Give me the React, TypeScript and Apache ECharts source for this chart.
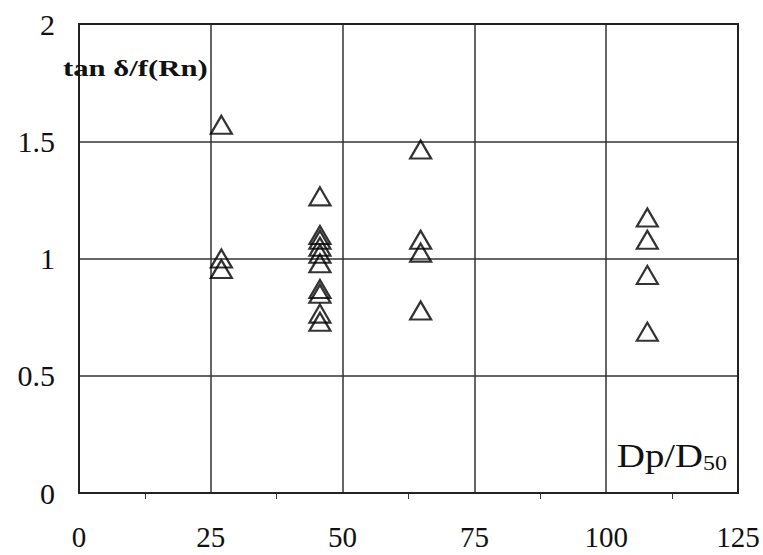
import React, { useEffect, useRef } from "react";
import * as echarts from "echarts";

const xTicks = [0, 25, 50, 75, 100, 125];
const yTicks = [0, 0.5, 1, 1.5, 2];
const groupX = [27, 27, 27, 45.7, 45.7, 45.7, 45.7, 45.7, 45.7, 45.7, 45.7, 45.7, 45.7, 64.8, 64.8, 64.8, 64.8, 107.8, 107.8, 107.8, 107.8];
const groupY = [1.57, 1.0, 0.955, 1.265, 1.1, 1.08, 1.05, 1.02, 0.98, 0.87, 0.85, 0.765, 0.73, 1.465, 1.08, 1.025, 0.778, 1.175, 1.08, 0.93, 0.688];
const yAxisTitle = "tan δ/f(Rn)";

const SERIF = "Liberation Serif";

export default function App() {
  const ref = useRef<HTMLDivElement>(null);
  useEffect(() => {
    document.body.style.margin = "0";
    document.body.style.overflow = "hidden";
    if (!ref.current) return;
    const chart = echarts.init(ref.current, null, { renderer: "svg" });
    const data = groupX.map((x, i) => [x, groupY[i]]);
    chart.setOption({
      animation: false,
      backgroundColor: "#fff",
      textStyle: { fontFamily: SERIF },
      grid: { left: 79, top: 24, width: 659, height: 469, containLabel: false },
      xAxis: {
        type: "value",
        min: 0,
        max: 125,
        interval: 25,
        axisLine: { show: true, onZero: false, lineStyle: { color: "#222", width: 2 } },
        axisTick: { show: false },
        minorTick: { show: true, splitNumber: 2, length: 6, lineStyle: { color: "#333", width: 1 } },
        splitLine: { show: true, lineStyle: { color: "#333", width: 1.5 } },
        axisLabel: {
          color: "#111",
          fontFamily: SERIF,
          fontSize: 29,
          margin: 29,
          formatter: (v: number) => (xTicks.includes(v) ? String(v) : ""),
        },
      },
      yAxis: {
        type: "value",
        min: 0,
        max: 2,
        interval: 0.5,
        axisLine: { show: true, onZero: false, lineStyle: { color: "#222", width: 2 } },
        axisTick: { show: false },
        splitLine: { show: true, lineStyle: { color: "#333", width: 1.5 } },
        axisLabel: {
          color: "#111",
          fontFamily: SERIF,
          fontSize: 30,
          margin: 24,
          align: "right",
          formatter: (v: number) => (yTicks.includes(v) ? String(v) : ""),
        },
      },
      graphic: [
        {
          type: "rect",
          shape: { x: 79, y: 24, width: 659, height: 469 },
          style: { fill: "none", stroke: "#222", lineWidth: 2 },
          silent: true,
          z: 10,
        },
        {
          type: "text",
          x: 63,
          y: 68,
          scaleX: 1.28,
          style: {
            text: yAxisTitle,
            font: "bold 24px Liberation Serif",
            fill: "#111",
            verticalAlign: "middle",
          },
          z: 20,
        },
        {
          type: "text",
          x: 617,
          y: 473,
          scaleX: 1.14,
          style: {
            text: "{a|Dp/D}{b|50}",
            fill: "#111",
            verticalAlign: "bottom",
            rich: {
              a: { fontFamily: SERIF, fontSize: 34, fill: "#111", verticalAlign: "bottom" },
              b: { fontFamily: SERIF, fontSize: 21, fill: "#111", verticalAlign: "bottom" },
            },
          },
          z: 20,
        },
      ],
      series: [
        {
          type: "scatter",
          data,
          symbol: "triangle",
          symbolSize: [21, 18],
          itemStyle: { color: "rgba(0,0,0,0)", borderColor: "#000", borderWidth: 2.2 },
          z: 5,
        },
      ],
    });
    return () => chart.dispose();
  }, []);
  return <div ref={ref} style={{ width: 763, height: 555, overflow: "hidden" }} />;
}
